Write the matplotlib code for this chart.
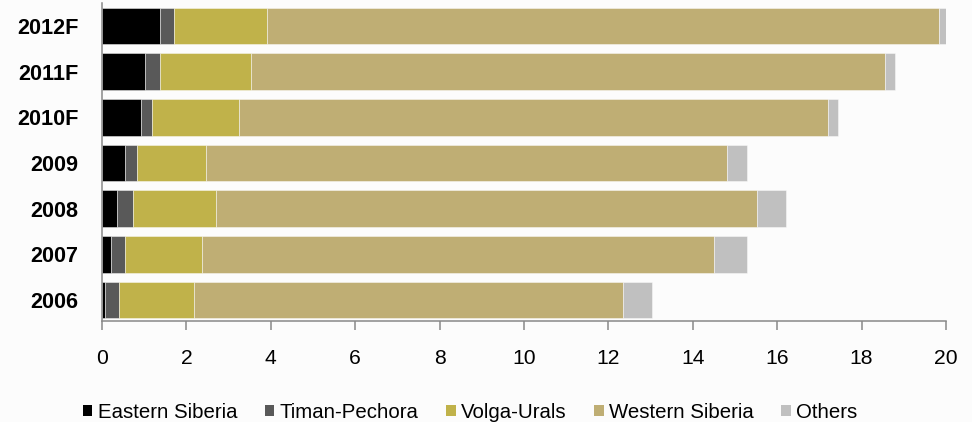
import numpy as np
import matplotlib.pyplot as plt
from matplotlib.patches import Patch

# ==============================================================================
# 1. DATOS
# ==============================================================================
anios = ['2006', '2007', '2008', '2009', '2010F', '2011F', '2012F']

eastern_siberia = [0.07, 0.21, 0.36, 0.55, 0.93, 1.03, 1.37]
timan_pechora   = [0.33, 0.34, 0.38, 0.29, 0.25, 0.34, 0.34]
volga_urals     = [1.79, 1.83, 1.97, 1.63, 2.06, 2.17, 2.20]
western_siberia = [10.16, 12.13, 12.82, 12.33, 13.97, 15.01, 15.92]
others          = [0.68, 0.77, 0.67, 0.48, 0.24, 0.24, 0.17]

series = ['Eastern Siberia', 'Timan-Pechora', 'Volga-Urals', 'Western Siberia', 'Others']
colores = ['#000000', '#595959', '#c0b24a', '#bfae74', '#c0c0c0']

# ==============================================================================
# 2. GRAFICO
# ==============================================================================
plt.rcParams['font.family'] = ['Liberation Sans', 'DejaVu Sans']

fig = plt.figure(figsize=(9.72, 4.22), dpi=100, facecolor='#fcfcfc')
ax = fig.add_axes([102 / 972, 1 - 321 / 422, 844 / 972, 318 / 422])
ax.set_facecolor('#fcfcfc')

y = np.arange(len(anios))
izquierda = np.zeros(len(anios))
for valores, color in zip([eastern_siberia, timan_pechora, volga_urals, western_siberia, others], colores):
    ax.barh(y, valores, left=izquierda, height=0.8, color=color,
            edgecolor=(1, 1, 1, 0.45), linewidth=0.7)
    izquierda += np.array(valores)

ax.set_xlim(0, 20)
ax.set_ylim(-0.46, 6.5)
ax.set_xticks(np.arange(0, 21, 2))
ax.set_yticks(y)
ax.set_yticklabels(anios, fontweight='bold')

for lado in ['top', 'right']:
    ax.spines[lado].set_visible(False)
for lado in ['left', 'bottom']:
    ax.spines[lado].set_color('#888888')
    ax.spines[lado].set_linewidth(1.1)

ax.tick_params(axis='x', direction='out', length=6.5, width=1.1, color='#888888',
               pad=14, labelsize=15.2, labelcolor='black')
ax.tick_params(axis='y', length=0, pad=17, labelsize=15.6, labelcolor='black')

# Leyenda
handles = [Patch(facecolor=c, edgecolor='none') for c in colores]
fig.legend(handles, series, loc='center', bbox_to_anchor=(470 / 972, 1 - 412 / 422),
           ncol=5, frameon=False, fontsize=14.7, handlelength=0.48, handleheight=0.48,
           handletextpad=0.25, columnspacing=1.35, borderpad=0, borderaxespad=0)

plt.savefig('out.png', dpi=100, facecolor=fig.get_facecolor())
plt.close()
